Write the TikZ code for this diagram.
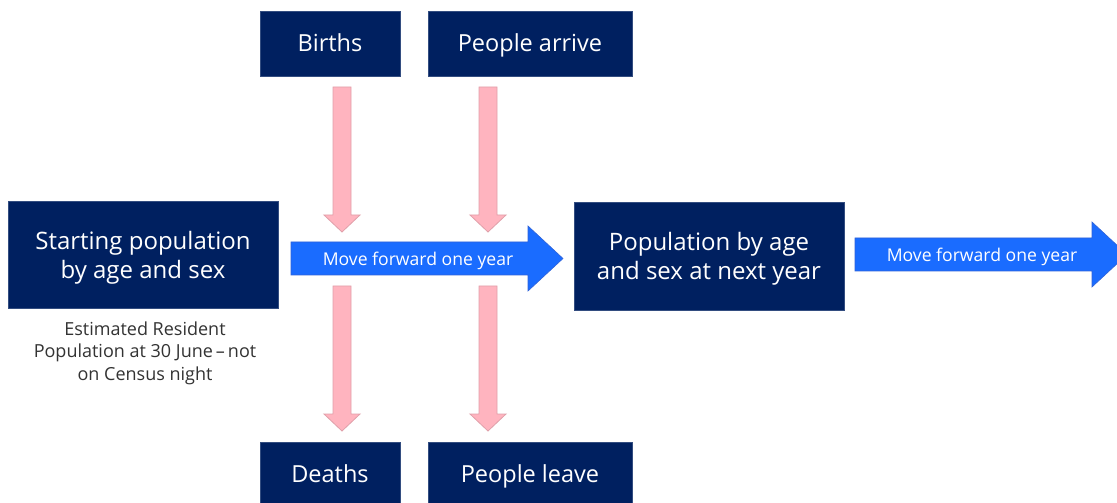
\documentclass[tikz,border=0pt]{standalone}
\usepackage{fontspec}
\setmainfont{Open Sans}
\definecolor{navy}{HTML}{002060}
\definecolor{flowblue}{HTML}{1A6CFF}
\definecolor{flowblueline}{HTML}{2F63D8}
\definecolor{pinkfill}{HTML}{FFB4BF}
\definecolor{pinkline}{HTML}{E0A0AA}
\definecolor{notegray}{HTML}{333333}
\tikzset{
  darkbox/.style={fill=navy, draw=navy!80!white, line width=0.6bp},
  bigtext/.style={text=white, font=\fontsize{24bp}{29bp}\selectfont, align=center},
  midtext/.style={text=white, font=\fontsize{23.5bp}{28bp}\selectfont,
    text height=17bp, text depth=5bp},
  arrowtext/.style={text=white, font=\fontsize{17.6bp}{20bp}\selectfont,
    text height=13bp, text depth=4bp},
  notetext/.style={text=notegray, font=\fontsize{18bp}{22.5bp}\selectfont, align=center},
  bluearrow/.style={fill=flowblue, draw=flowblueline, line width=0.6bp},
  pinkarrow/.style={fill=pinkfill, draw=pinkline, line width=0.8bp},
}
% vertical block arrow: centre x, top of shaft, start of head, tip
\newcommand\pinkblock[4]{%
  \draw[pinkarrow] (#1-9,#2) -- (#1+9,#2) -- (#1+9,#3) -- (#1+18,#3)
    -- (#1,#4) -- (#1-18,#3) -- (#1-9,#3) -- cycle;}
% horizontal block arrow: left end, head start, tip, centre y
\newcommand\blueblock[4]{%
  \draw[bluearrow] (#1,#4-16.5) -- (#2,#4-16.5) -- (#2,#4-32.5) -- (#3,#4)
    -- (#2,#4+32.5) -- (#2,#4+16.5) -- (#1,#4+16.5) -- cycle;}
\begin{document}
\begin{tikzpicture}[x=1bp,y=-1bp]
\useasboundingbox (0,0) rectangle (1117,503);
\fill[white] (0,0) rectangle (1117,503);

% population boxes
\fill[darkbox] (8,201) rectangle (278,308);
\node[bigtext] (start) at (143,257.5) {Starting population\\by age and sex};
\fill[darkbox] (574,202) rectangle (844,310);
\node[bigtext] (next) at (709,258.5) {Population by age\\and sex at next year};

\node[notetext] (note) at (145,353) {Estimated Resident\\Population at 30 June\,–\,not\\on Census night};

% components of change
\fill[darkbox] (260,11) rectangle (400,76);
\node[midtext] (births) at (330,45.5) {Births};
\fill[darkbox] (428,11) rectangle (632,76);
\node[midtext] (arrive) at (530,45.5) {People arrive};
\fill[darkbox] (260,442) rectangle (400,503);
\node[midtext] (deaths) at (330,476) {Deaths};
\fill[darkbox] (428,442) rectangle (632,503);
\node[midtext] (leave) at (530,476) {People leave};

% flows into and out of the year
\pinkblock{342}{87}{215}{232}
\pinkblock{488}{87}{215}{232}
\pinkblock{342}{286}{414}{431}
\pinkblock{488}{286}{414}{431}

% time steps
\blueblock{291}{528}{563}{258.5}
\node[arrowtext] (step1) at (418,261) {Move forward one year};
\blueblock{855}{1092}{1127}{254.5}
\node[arrowtext] (step2) at (982,257) {Move forward one year};
\end{tikzpicture}
\end{document}
